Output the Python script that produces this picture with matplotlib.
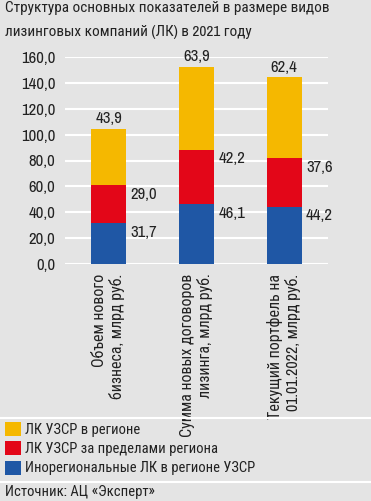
import matplotlib.pyplot as plt
import numpy as np
from matplotlib.lines import Line2D

plt.rcParams['font.family'] = ['Archivo Narrow', 'Roboto Condensed', 'DejaVu Sans']

# Data
categories = ['Объем нового\nбизнеса, млрд руб.',
              'Сумма новых договоров\nлизинга, млрд руб.',
              'Текущий портфель на\n01.01.2022, млрд руб.']
inoreg = [31.7, 46.1, 44.2]      # blue, bottom
outside = [29.0, 42.2, 37.6]     # red, middle
in_region = [43.9, 63.9, 62.4]   # yellow, top
series_names = ['Инорегиональные ЛК в регионе УЗСР',
                'ЛК УЗСР за пределами региона',
                'ЛК УЗСР в регионе']
yticks = np.arange(0, 161, 20)

colors = ['#1f57a5', '#e30618', '#f5b800']
bg = '#e4e4e4'
txt = '#222222'

fig = plt.figure(figsize=(3.71, 5.01), dpi=100, facecolor=bg)
ax = fig.add_axes([65/371, (501-264)/501, 263/371, 207/501])
ax.set_facecolor(bg)

x = np.arange(len(categories))
width = 0.4
b1 = ax.bar(x, inoreg, width, color=colors[0], zorder=3)
bottom2 = np.array(inoreg)
b2 = ax.bar(x, outside, width, bottom=bottom2, color=colors[1], zorder=3)
bottom3 = bottom2 + np.array(outside)
b3 = ax.bar(x, in_region, width, bottom=bottom3, color=colors[2], zorder=3)

ax.set_xlim(-0.5, 2.5)
ax.set_ylim(0, 160)
ax.set_yticks(yticks)
ax.set_yticklabels([f'{v:.1f}'.replace('.', ',') for v in yticks],
                   fontsize=12, color=txt)
ax.grid(axis='y', color='white', linewidth=1.5, zorder=0)
ax.tick_params(axis='y', length=0, pad=7)
ax.tick_params(axis='x', length=0, pad=7)
for s in ax.spines.values():
    s.set_visible(False)

ax.set_xticks(x)
ax.set_xticklabels(categories, rotation=90, ha='center', va='top',
                   multialignment='right', fontsize=11.5, color=txt,
                   linespacing=1.15)

# value labels
for i in range(len(x)):
    for val, top in [(inoreg[i], bottom2[i]), (outside[i], bottom3[i])]:
        ax.text(x[i] + width/2 + 0.05, top - 7, f'{val:.1f}'.replace('.', ','),
                ha='left', va='center', fontsize=12, color=txt)
    ax.annotate(f'{in_region[i]:.1f}'.replace('.', ','),
                xy=(x[i], bottom3[i] + in_region[i]), xytext=(0, 2),
                textcoords='offset points', ha='center', va='bottom',
                fontsize=12, color=txt, annotation_clip=False)

fig.text(5/371, 1 - 1/501, 'Структура основных показателей в размере видов\n'
         'лизинговых компаний (ЛК) в 2021 году',
         ha='left', va='top', fontsize=11, color=txt, linespacing=1.95)

# separators
for yy in [418, 482]:
    fig.add_artist(Line2D([0, 1], [1 - yy/501, 1 - yy/501], color='white',
                          linewidth=1.5, transform=fig.transFigure))

fig.legend([b3, b2, b1], series_names[::-1], loc='upper left',
           bbox_to_anchor=(-0.002, 1 - 416/501), frameon=False, fontsize=10.5,
           handlelength=1.1, handleheight=1.1, handletextpad=0.25,
           labelspacing=0.3, borderpad=0.2, borderaxespad=0.2,
           labelcolor=txt)

fig.text(5/371, 1 - 492/501, 'Источник: АЦ «Эксперт»', ha='left',
         va='center', fontsize=10.5, color=txt)

plt.savefig('out.png', dpi=100, facecolor=bg)
